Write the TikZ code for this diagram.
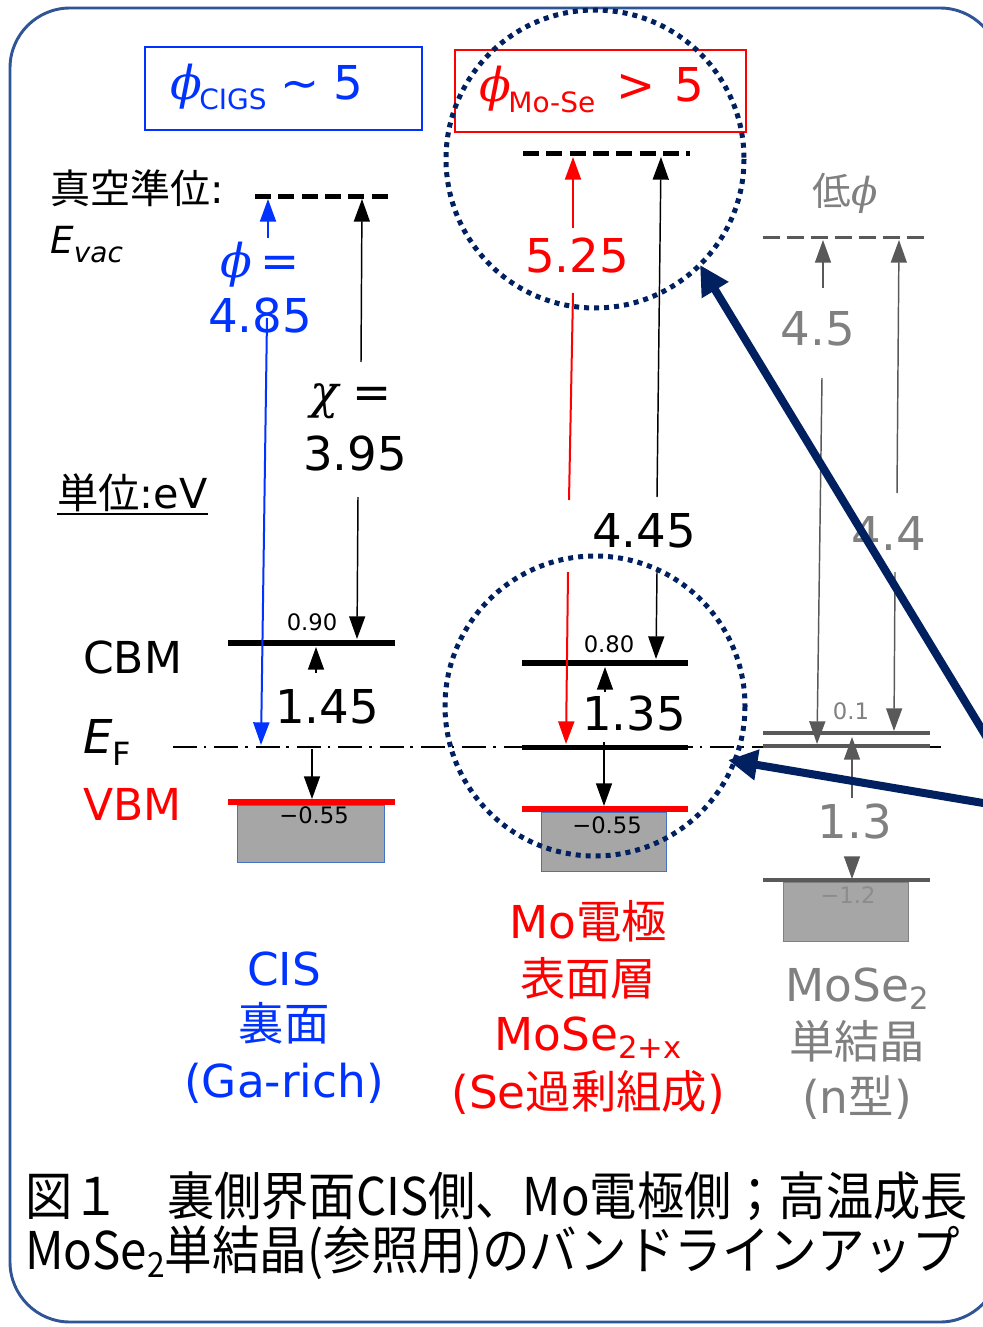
\documentclass[tikz,border=0pt]{standalone}
\usepackage{fontspec}
\setmainfont{DejaVu Sans}
\newfontfamily\jp{Noto Sans CJK JP}
\newfontfamily\grk{DejaVu Serif}
\usetikzlibrary{arrows.meta}
\definecolor{cisblue}{RGB}{0,51,255}
\definecolor{navyc}{RGB}{0,32,96}
\definecolor{framec}{RGB}{47,85,151}
\definecolor{dgray}{RGB}{89,89,89}
\definecolor{tgray}{RGB}{128,128,128}
\definecolor{lgray}{RGB}{140,140,140}
\definecolor{boxgray}{RGB}{166,166,166}
\definecolor{boxedge}{RGB}{68,114,196}
\definecolor{redc}{RGB}{255,0,0}
\newcommand{\ph}{{\grk\itshape ϕ}}
\newcommand{\chisym}{{\grk\itshape χ}}
\newcommand{\fsz}[1]{\fontsize{#1}{#1}\selectfont}
\begin{document}
\begin{tikzpicture}[x=0.75pt,y=-0.75pt,
 arr/.style={-{Triangle[length=17pt,width=12pt]}},
 ln/.style={line width=1.1pt},
 txt/.style={inner sep=0pt, anchor=base},
 big/.style={txt, font=\fsz{35}},
 sml/.style={txt, font=\fsz{17}},
 lab/.style={txt, font=\fsz{34}},
 bandline/.style={line width=4.5pt},
 vacline/.style={line width=3.75pt, dash pattern=on 12pt off 5.5pt},
 gbox/.style={fill=boxgray, line width=0.75pt},
 circ/.style={navyc, line width=3.75pt, dash pattern=on 3.75pt off 3.75pt},
 pointer/.style={navyc, line width=6pt, -{Triangle[length=22pt,width=22pt]}}
]
\path[use as bounding box, fill=white] (0,0) rectangle (982,1327);
\draw[framec, line width=2.2pt, rounded corners=45pt] (10,8) rectangle (1000,1322);

% ---------- boxes at top
\draw[cisblue, line width=2pt] (145,47) rectangle (422,130);
\node[big, anchor=base west, text=cisblue] (cigs) at (170,100)
  {\ph\kern-2pt\raisebox{-7.5pt}{\fsz{21}CIGS}\hspace{10pt}∼\hspace{11pt}5};
\draw[redc, line width=2pt] (455,50) rectangle (746,132);
\node[big, anchor=base west, text=redc] (mose) at (479,102)
  {\ph\kern-2pt\raisebox{-8pt}{\fsz{21}Mo-Se}\hspace{16pt}>\hspace{14pt}5};

% ---------- left labels
\node[txt, anchor=base west, font=\fsz{30}] (vaclab) at (50,203) {{\jp 真空準位}:};
\node[txt, anchor=base west, font=\fsz{28}] (evac) at (50,253) {\textit{E}\raisebox{-7pt}{\fsz{21}\textit{vac}}};
\node[txt, anchor=base west, font=\fsz{31}] (unit) at (57,508) {{\jp 単位}:eV};
\draw[line width=1.2pt] (57,514) -- (208,514);
\node[txt, anchor=base west, font=\fsz{33}] (cbmlab) at (83,673) {CBM};
\node[txt, anchor=base west, font=\fsz{35}] (eflab) at (83,753) {\textit{E}\raisebox{-9pt}{\fsz{24}F}};
\node[txt, anchor=base west, font=\fsz{33}, text=redc] (vbmlab) at (83,820) {VBM};

% ---------- gray boxes
\draw[gbox, draw=boxedge] (237,805) rectangle (384,862);
\draw[gbox, draw=boxedge] (541,812) rectangle (666,871);
\draw[gbox, draw=tgray] (783,882) rectangle (908,941);

% ---------- Fermi level
\coordinate (efl) at (173,747); \coordinate (efr) at (947,747);
\draw[line width=1.5pt, dash pattern=on 18pt off 5pt on 2pt off 6pt] (efl) -- (efr);

% ---------- CIS column
\coordinate (cvl) at (255,196); \coordinate (cvr) at (390,196);
\draw[vacline] (cvl) -- (cvr);
\coordinate (ccl) at (228,643); \coordinate (ccr) at (395,643);
\draw[bandline] (ccl) -- (ccr);
\coordinate (cbl) at (228,802); \coordinate (cbr) at (395,802);
\draw[bandline, redc] (cbl) -- (cbr);

\coordinate (b1s) at (268,238); \coordinate (b1e) at (268,199);
\draw[cisblue, line width=1.5pt, arr] (b1s) -- (b1e);
\coordinate (b2s) at (267,318); \coordinate (b2e) at (261,745);
\draw[cisblue, line width=1.5pt, arr] (b2s) -- (b2e);
\node[big, text=cisblue] (phi1) at (260,277) {\ph\,=};
\node[big, text=cisblue] (v485) at (260,332) {4.85};

\coordinate (k1s) at (361,362); \coordinate (k1e) at (362,199);
\draw[ln, arr] (k1s) -- (k1e);
\coordinate (k2s) at (358,497); \coordinate (k2e) at (357,639);
\draw[ln, arr] (k2s) -- (k2e);
\node[big] (chi) at (351,408) {\chisym\;=};
\node[big] (v395) at (355,470) {3.95};

\coordinate (g1s) at (316,673); \coordinate (g1e) at (316,647);
\draw[ln, arr] (g1s) -- (g1e);
\node[big] (v145) at (327,723) {1.45};
\coordinate (g2s) at (312,749); \coordinate (g2e) at (312,799);
\draw[ln, arr] (g2s) -- (g2e);
\node[sml] (v090) at (312,630) {0.90};
\node[sml] (v055a) at (314,823) {−0.55};

% ---------- Mo column
\coordinate (mvl) at (523,154); \coordinate (mvr) at (690,154);
\draw[vacline] (mvl) -- (mvr);
\coordinate (mcl) at (522,663); \coordinate (mcr) at (688,663);
\draw[bandline] (mcl) -- (mcr);
\coordinate (mel) at (522,747); \coordinate (mer) at (688,747);
\draw[line width=3.75pt] (mel) -- (mer);
\coordinate (mbl) at (522,809); \coordinate (mbr) at (688,809);
\draw[bandline, redc] (mbl) -- (mbr);

\coordinate (r1s) at (573,228); \coordinate (r1e) at (573,157);
\draw[redc, line width=1.5pt, arr] (r1s) -- (r1e);
\coordinate (r2s) at (573,293); \coordinate (r2e) at (569,500);
\draw[redc, line width=1.5pt] (r2s) -- (r2e);
\coordinate (r3s) at (568,572); \coordinate (r3e) at (566,744);
\draw[redc, line width=1.5pt, arr] (r3s) -- (r3e);
\node[big, text=redc] (v525) at (577,272) {5.25};

\coordinate (m1s) at (657,497); \coordinate (m1e) at (661,157);
\draw[ln, arr] (m1s) -- (m1e);
\coordinate (m2s) at (657,572); \coordinate (m2e) at (656,659);
\draw[ln, arr] (m2s) -- (m2e);
\node[big] (v445) at (644,547) {4.45};

\coordinate (h1s) at (605,692); \coordinate (h1e) at (605,667);
\draw[ln, arr] (h1s) -- (h1e);
\node[big] (v135) at (634,730) {1.35};
\coordinate (h2s) at (604,742); \coordinate (h2e) at (604,806);
\draw[ln, arr] (h2s) -- (h2e);
\node[sml] (v080) at (609,652) {0.80};
\node[sml] (v055b) at (607,833) {−0.55};

% ---------- MoSe2 column
\coordinate (svl) at (763,237); \coordinate (svr) at (930,237);
\draw[dgray, line width=2.25pt, dash pattern=on 13pt off 5pt] (svl) -- (svr);
\coordinate (scl) at (763,733); \coordinate (scr) at (930,733);
\draw[dgray, line width=3pt] (scl) -- (scr);
\coordinate (sel) at (763,746); \coordinate (ser) at (930,746);
\draw[dgray, line width=3pt] (sel) -- (ser);
\coordinate (sbl) at (763,880); \coordinate (sbr) at (930,880);
\draw[dgray, line width=3pt] (sbl) -- (sbr);

\node[txt, font=\fsz{29}, text=tgray] (lowphi) at (845,205) {{\jp 低}\ph};
\coordinate (s1s) at (823,288); \coordinate (s1e) at (823,240);
\draw[dgray, ln, arr] (s1s) -- (s1e);
\coordinate (s2s) at (822,378); \coordinate (s2e) at (817,744);
\draw[dgray, ln, arr] (s2s) -- (s2e);
\node[big, text=tgray] (v45) at (818,345) {4.5};
\coordinate (s3s) at (897,493); \coordinate (s3e) at (899,240);
\draw[dgray, ln, arr] (s3s) -- (s3e);
\coordinate (s4s) at (895,572); \coordinate (s4e) at (894,731);
\draw[dgray, ln, arr] (s4s) -- (s4e);
\node[big, text=tgray] (v44) at (889,550) {4.4};
\coordinate (s5s) at (852,798); \coordinate (s5e) at (852,737);
\draw[dgray, ln, arr] (s5s) -- (s5e);
\node[big, text=tgray] (v13) at (855,838) {1.3};
\coordinate (s6s) at (852,857) ; \coordinate (s6e) at (852,879);
\draw[dgray, ln, arr] (s6s) -- (s6e);
\node[sml, text=tgray] (v01) at (851,719) {0.1};
\node[sml, text=lgray] (v12) at (848,903) {−1.2};

% ---------- circles and pointers
\node[circle, minimum size=298*0.75pt, inner sep=0pt] (ctop) at (595,159) {};
\draw[circ] (595,159) circle[radius=149];
\node[circle, minimum size=300*0.75pt, inner sep=0pt] (cbot) at (595,706) {};
\draw[circ] (595,706) circle[radius=150];
\coordinate (p1s) at (995,751); \coordinate (p1e) at (700,265);
\draw[pointer] (p1s) -- (p1e);
\coordinate (p2s) at (995,805); \coordinate (p2e) at (728,760);
\draw[pointer] (p2s) -- (p2e);

% ---------- bottom labels
\node[lab, text=cisblue] (cis1) at (284,985) {CIS};
\node[lab, text=cisblue] (cis2) at (284,1040) {\jp 裏面};
\node[lab, text=cisblue] (cis3) at (284,1097) {(Ga-rich)};
\node[lab, text=redc] (mo1) at (588,938) {Mo{\jp 電極}};
\node[lab, text=redc] (mo2) at (588,995) {\jp 表面層};
\node[lab, text=redc] (mo3) at (588,1050) {MoSe\raisebox{-6pt}{\fsz{23}2+x}};
\node[lab, text=redc] (mo4) at (588,1108) {(Se{\jp 過剰組成})};
\node[lab, text=tgray] (se1) at (857,1001) {MoSe\raisebox{-6pt}{\fsz{23}2}};
\node[lab, text=tgray] (se2) at (857,1058) {\jp 単結晶};
\node[lab, text=tgray] (se3) at (857,1113) {(n{\jp 型})};

% ---------- caption
\node[txt, anchor=base west, font=\jp\fsz{39}] (cap1) at (25,1215)
  {\resizebox{707pt}{\height}{図１　裏側界面CIS側、Mo電極側；高温成長}};
\node[txt, anchor=base west, font=\jp\fsz{39}] (cap2) at (25,1269)
  {\resizebox{701pt}{\height}{MoSe\raisebox{-6pt}{\fsz{26}2}単結晶(参照用)のバンドラインアップ}};
\end{tikzpicture}
\end{document}
